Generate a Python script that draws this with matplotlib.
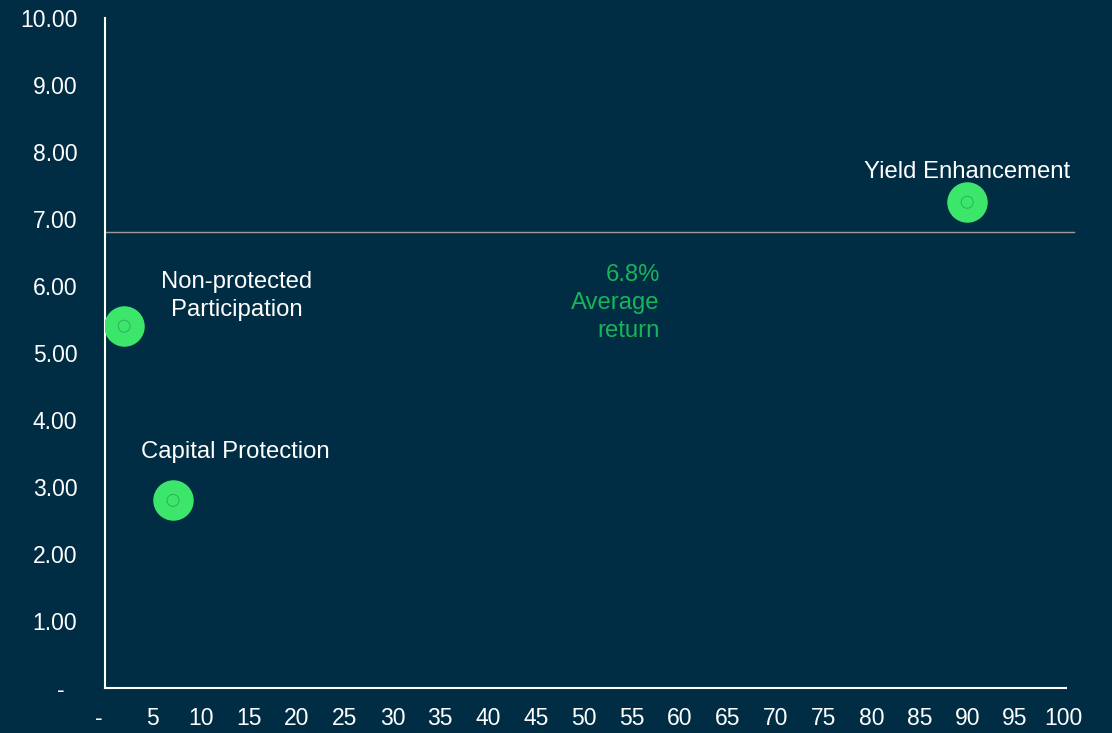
import matplotlib
matplotlib.use("Agg")
from matplotlib import pyplot as plt
from matplotlib.ticker import FuncFormatter

# structured product categories: tenor share vs return
categories = ["Yield Enhancement", "Non-protected\nParticipation", "Capital Protection"]
x_vals = [90.0, 2.0, 7.1]
y_vals = [7.25, 5.4, 2.8]
label_offsets = [(0, 22), (81, 22), (45, 35)]   # points, label centre relative to marker
avg_return = 6.8

bg = "#002d44"
green = "#3be66a"
text_green = "#19b35a"
fs = 16.5
label_fs = 17.2

plt.rcParams["font.family"] = ["Liberation Sans", "DejaVu Sans"]

fig = plt.figure(figsize=(11.12, 7.33), dpi=100, facecolor=bg)
ax = fig.add_axes([105 / 1112, 1 - 688 / 733, (1063 - 105) / 1112, (688 - 18) / 733])
ax.set_facecolor(bg)

ax.set_xlim(0, 100)
ax.set_ylim(0, 10)
ax.set_xticks(range(0, 101, 5))
ax.set_yticks(range(0, 11))
ax.xaxis.set_major_formatter(FuncFormatter(lambda v, p: "-  " if v == 0 else "%d" % v))
ax.yaxis.set_major_formatter(FuncFormatter(lambda v, p: "-  " if v == 0 else "%.2f" % v))
ax.tick_params(length=0, colors="white", labelsize=fs)
ax.tick_params(axis="y", pad=20)
ax.tick_params(axis="x", pad=14)

for s in ["top", "right"]:
    ax.spines[s].set_visible(False)
for s in ["left", "bottom"]:
    ax.spines[s].set_color("white")
    ax.spines[s].set_linewidth(1.5)
ax.spines["bottom"].set_bounds(0, 100.3)

# average return line
ax.axhline(avg_return, xmin=0, xmax=1.012, color="#a09a9a", lw=1, clip_on=False, zorder=1)
ax.text(57.9, 5.75, "%.1f%%\nAverage\nreturn" % avg_return, color=text_green,
        ha="right", va="center", fontsize=label_fs, linespacing=1.35)

ax.scatter(x_vals, y_vals, s=850, color=green, zorder=3, linewidths=0)
ax.scatter(x_vals, y_vals, s=75, facecolors="none", edgecolors="#2aa957",
           linewidths=0.6, zorder=4)

for name, x, y, off in zip(categories, x_vals, y_vals, label_offsets):
    ax.annotate(name, (x, y), xytext=off, textcoords="offset points",
                ha="center", va="center", color="white", fontsize=label_fs,
                linespacing=1.35)

fig.savefig("out.png", dpi=100, facecolor=bg)
